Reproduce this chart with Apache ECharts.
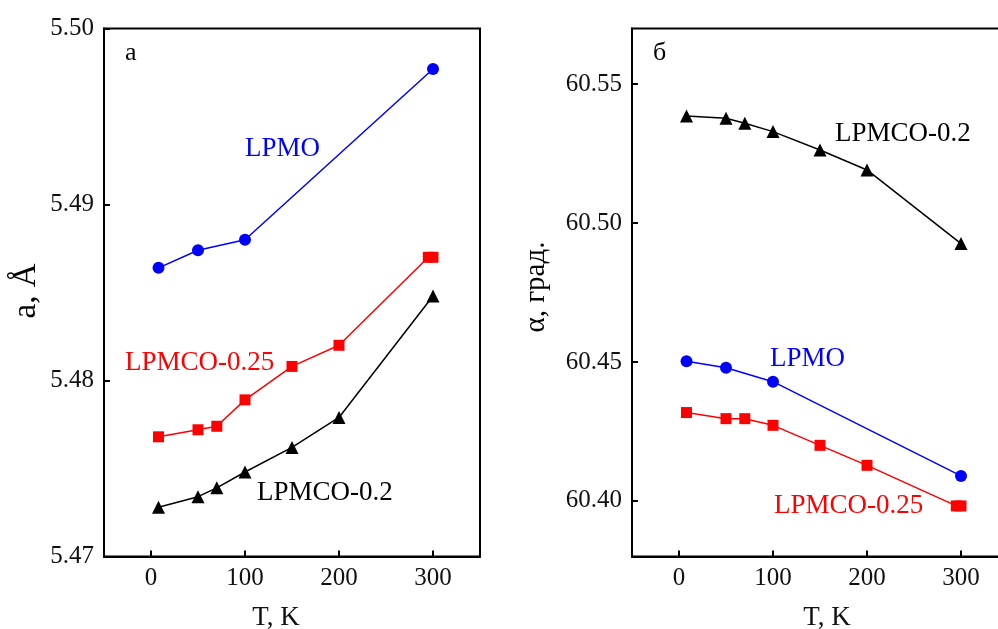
<!DOCTYPE html>
<html><head><meta charset="utf-8">
<script src="https://cdn.jsdelivr.net/npm/echarts@6/dist/echarts.min.js"></script>
<style>html,body{margin:0;padding:0;background:#fff}#c{width:998px;height:629px}</style>
</head><body><div id="c"></div>
<script>
// Temperatures (K)
const T_LPMO = [8, 50, 100, 300];
const T_LPMCO025 = [8, 50, 70, 100, 150, 200, 295, 300];
const T_LPMCO02 = [8, 50, 70, 100, 150, 200, 300];

// Panel a: lattice parameter a, Å
const a_LPMO = [5.4864, 5.4874, 5.4880, 5.4977];
const a_LPMCO025 = [5.4768, 5.4772, 5.4774, 5.4789, 5.4808, 5.4820, 5.4870, 5.4870];
const a_LPMCO02 = [5.4728, 5.4734, 5.4739, 5.4748, 5.4762, 5.4779, 5.4848];

// Panel б: angle alpha, degrees
const al_LPMO = [60.4503, 60.4479, 60.4429, 60.4090];
const al_LPMCO025 = [60.4318, 60.4296, 60.4296, 60.4272, 60.4200, 60.4128, 60.3982, 60.3982];
const al_LPMCO02 = [60.5385, 60.5377, 60.5359, 60.5329, 60.5263, 60.5191, 60.4926];

// Tick values
const xTicks = [0, 100, 200, 300];
const aTicks = [5.47, 5.48, 5.49, 5.50];
const alTicks = [60.40, 60.45, 60.50, 60.55];

const FONT = '"Liberation Serif", "Times New Roman", serif';
const pair = (xs, ys) => xs.map((x, i) => [x, ys[i]]);

function xAxisCfg(gi) {
  return {
    type: 'value', gridIndex: gi, min: -50, max: 350,
    axisLine: { show: true, onZero: false, lineStyle: { color: '#000', width: 2 } },
    axisTick: { show: true, inside: true, length: 6, customValues: xTicks, lineStyle: { color: '#000', width: 2 } },
    axisLabel: { customValues: xTicks, margin: 9, fontFamily: FONT, fontSize: 25, color: '#111' },
    splitLine: { show: false }
  };
}
function yAxisCfg(gi, min, max, ticks) {
  return {
    type: 'value', gridIndex: gi, min: min, max: max,
    axisLine: { show: true, onZero: false, lineStyle: { color: '#000', width: 2 } },
    axisTick: { show: true, inside: true, length: 6, customValues: ticks, lineStyle: { color: '#000', width: 2 } },
    axisLabel: { customValues: ticks, margin: 10, fontFamily: FONT, fontSize: 25, color: '#111',
      formatter: v => v.toFixed(2) },
    splitLine: { show: false }
  };
}
function ser(name, xi, data, color, symbol, size) {
  return {
    name: name, type: 'line', xAxisIndex: xi, yAxisIndex: xi, data: data,
    symbol: symbol, symbolSize: size, showAllSymbol: true,
    lineStyle: { color: color, width: 1.5 },
    itemStyle: { color: color },
    emphasis: { disabled: true }, z: 3
  };
}
function txt(text, x, y, color, size, opts) {
  return Object.assign({
    type: 'text', x: x, y: y, z: 10,
    style: { text: text, fill: color, font: size + 'px ' + FONT, textAlign: 'left', textVerticalAlign: 'middle' }
  }, opts || {});
}

const chart = echarts.init(document.getElementById('c'), null, { renderer: 'canvas' });
chart.setOption({
  animation: false,
  backgroundColor: '#fff',
  grid: [
    { left: 104, top: 28.5, width: 376, height: 528, outerBoundsMode: 'none', containLabel: false, show: true, borderColor: '#000', borderWidth: 2, backgroundColor: 'transparent' },
    { left: 632, top: 28.5, width: 376, height: 528, outerBoundsMode: 'none', containLabel: false, show: true, borderColor: '#000', borderWidth: 2, backgroundColor: 'transparent' }
  ],
  xAxis: [xAxisCfg(0), xAxisCfg(1)],
  yAxis: [yAxisCfg(0, 5.47, 5.50, aTicks), yAxisCfg(1, 60.38, 60.57, alTicks)],
  series: [
    ser('LPMO', 0, pair(T_LPMO, a_LPMO), '#0000ff', 'circle', 12),
    ser('LPMCO-0.25', 0, pair(T_LPMCO025, a_LPMCO025), '#ff0000', 'rect', 11),
    ser('LPMCO-0.2', 0, pair(T_LPMCO02, a_LPMCO02), '#000000', 'triangle', 13),
    ser('LPMO', 1, pair(T_LPMO, al_LPMO), '#0000ff', 'circle', 12),
    ser('LPMCO-0.25', 1, pair(T_LPMCO025, al_LPMCO025), '#ff0000', 'rect', 11),
    ser('LPMCO-0.2', 1, pair(T_LPMCO02, al_LPMCO02), '#000000', 'triangle', 13)
  ],
  graphic: [
    txt('a', 125, 53, '#000', 26),
    txt('б', 653, 53, '#000', 26),
    txt('LPMO', 245, 149, '#0000ff', 27),
    txt('LPMCO-0.25', 125, 363, '#ff0000', 27),
    txt('LPMCO-0.2', 257, 493, '#000', 27),
    txt('LPMCO-0.2', 835, 134, '#000', 27),
    txt('LPMO', 770, 359, '#0000ff', 27),
    txt('LPMCO-0.25', 774, 506, '#ff0000', 27),
    { type: 'text', x: 276, y: 618, z: 10, style: { text: 'T, K', fill: '#111', font: '27px ' + FONT, textAlign: 'center', textVerticalAlign: 'middle' } },
    { type: 'text', x: 827, y: 618, z: 10, style: { text: 'T, K', fill: '#111', font: '27px ' + FONT, textAlign: 'center', textVerticalAlign: 'middle' } },
    { type: 'text', x: 26, y: 291, rotation: Math.PI / 2, z: 10, style: { text: 'a, Å', fill: '#000', font: '33px ' + FONT, textAlign: 'center', textVerticalAlign: 'middle' } },
    { type: 'text', x: 536, y: 287, rotation: Math.PI / 2, z: 10, style: { text: 'α, град.', fill: '#000', font: '29px ' + FONT, textAlign: 'center', textVerticalAlign: 'middle' } }
  ]
});
</script></body></html>
